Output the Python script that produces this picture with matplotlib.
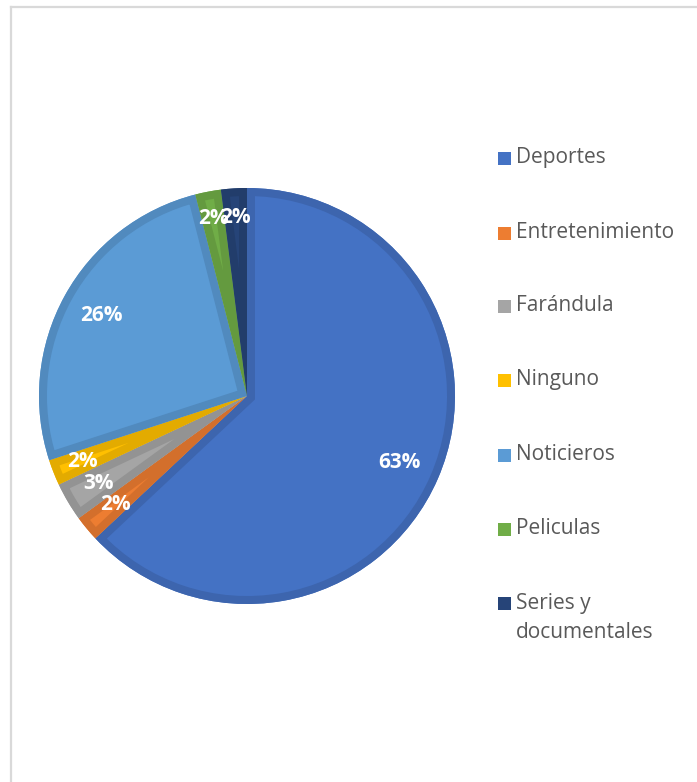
import numpy as np
import matplotlib.pyplot as plt
from matplotlib.patches import Wedge, Rectangle
from matplotlib.lines import Line2D
import matplotlib.colors as mcolors

categories = ["Deportes", "Entretenimiento", "Farándula", "Ninguno",
              "Noticieros", "Peliculas", "Series y\ndocumentales"]
shares = [63, 2, 3, 2, 26, 2, 2]
colors = ["#4472C4", "#ED7D31", "#A5A5A5", "#FFC000",
          "#5B9BD5", "#70AD47", "#264478"]

plt.rcParams['font.family'] = ['Open Sans', 'DejaVu Sans']

W, H = 697, 782
fig = plt.figure(figsize=(W / 100, H / 100), dpi=100)

# thin chart-area frame (only left and top edges are inside the crop)
frame = "#D9D9D9"
fig.add_artist(Line2D([11 / W, 11 / W], [0, 1 - 7 / H], color=frame, lw=1.6))
fig.add_artist(Line2D([11 / W, 1], [1 - 7 / H, 1 - 7 / H], color=frame, lw=1.6))

# pie axes: center (247, 396) px, radius 208 px
cx, cy, r = 247, 396, 208
ax = fig.add_axes([(cx - r) / W, (H - cy - r) / H, 2 * r / W, 2 * r / H])

wedges, texts, autotexts = ax.pie(
    shares, colors=colors, startangle=90, counterclock=False, radius=1,
    autopct=lambda p: f"{p:.0f}%", pctdistance=0.83,
    textprops=dict(color="white", fontsize=15, fontweight="bold"),
    wedgeprops=dict(linewidth=0))
ax.set_xlim(-1, 1)
ax.set_ylim(-1, 1)
ax.set_aspect('equal')
ax.axis('off')

# per-slice label distance from the center
label_dist = [0.80, 0.82, 0.83, 0.85, 0.80, 0.87, 0.86]
for w, t, d in zip(wedges, autotexts, label_dist):
    mid = np.deg2rad((w.theta1 + w.theta2) / 2)
    t.set_position((d * np.cos(mid), d * np.sin(mid)))

# darker inner band along every edge of each slice
for w, c in zip(wedges, colors):
    rgb = mcolors.to_rgb(c)
    dark = tuple(v * 0.89 for v in rgb)
    band = Wedge(w.center, w.r, w.theta1, w.theta2, fill=False,
                 edgecolor=dark, linewidth=11.5)
    ax.add_patch(band)
    band.set_clip_path(w)

# legend drawn by hand, one row every ~74 px
rows_y = [158, 233, 306, 380, 455, 529, 603]
for name, c, y in zip(categories, colors, rows_y):
    fig.add_artist(Rectangle((498 / W, 1 - (y + 7) / H), 13 / W, 13 / H,
                             facecolor=c, edgecolor="none",
                             transform=fig.transFigure))
    for i, line in enumerate(name.split("\n")):
        fig.text(516 / W, 1 - (y + 29 * i) / H, line, fontsize=15,
                 color="#595959", va="center", ha="left")

fig.savefig("out.png", dpi=100, facecolor="white")
